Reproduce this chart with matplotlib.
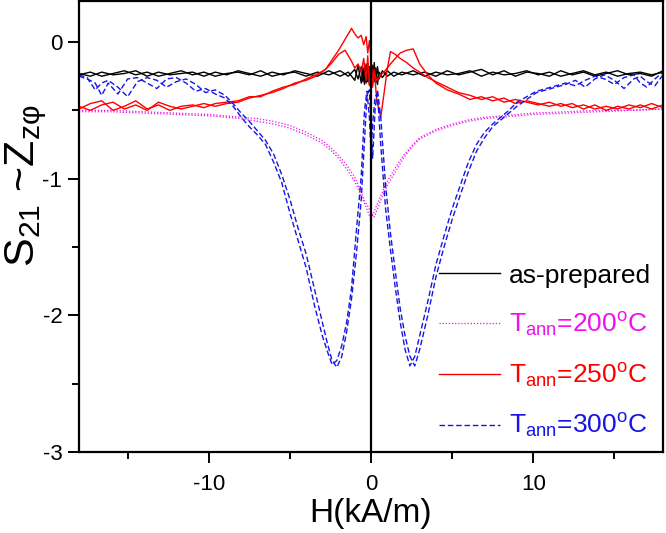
import matplotlib
matplotlib.use("Agg")
import matplotlib.pyplot as plt
from matplotlib.ticker import MultipleLocator

plt.rcParams['font.family'] = ['Liberation Sans', 'DejaVu Sans']
plt.rcParams['mathtext.fontset'] = 'custom'
plt.rcParams['mathtext.rm'] = 'Liberation Sans'
plt.rcParams['mathtext.it'] = 'Liberation Sans:italic'
plt.rcParams['axes.unicode_minus'] = False

# ---------------- data ----------------
black_x = [-18, -17.3, -16.6, -15.9, -15.2, -14.5, -13.8, -13.1, -12.4, -11.7, -11.0,
           -10.3, -9.6, -8.9, -8.2, -7.5, -6.8, -6.1, -5.4, -4.7, -4.0, -3.3,
           -2.6, -1.9, -1.4, -1.0, -0.8, -0.6, -0.5, -0.4, -0.3, -0.2, -0.1,
           0, 0.1, 0.2, 0.3, 0.4, 0.5, 0.7, 1.0, 1.4, 1.9, 2.6,
           3.3, 4.0, 4.7, 5.4, 6.1, 6.8, 7.5, 8.2, 8.9, 9.6, 10.3,
           11.0, 11.7, 12.4, 13.1, 13.8, 14.5, 15.2, 15.9, 16.6, 17.3, 18]
black_y1 = [-0.24, -0.22, -0.25, -0.23, -0.21, -0.24, -0.22, -0.25, -0.23, -0.21, -0.24,
            -0.22, -0.25, -0.23, -0.22, -0.24, -0.21, -0.25, -0.23, -0.22, -0.25, -0.22,
            -0.24, -0.21, -0.25, -0.20, -0.27, -0.18, -0.29, -0.17, -0.30, -0.16, -0.31,
            -0.20, -0.28, -0.15, -0.30, -0.18, -0.27, -0.21, -0.25, -0.22, -0.24, -0.21,
            -0.25, -0.22, -0.24, -0.23, -0.21, -0.25, -0.22, -0.24, -0.23, -0.21, -0.24,
            -0.22, -0.25, -0.23, -0.21, -0.24, -0.22, -0.25, -0.23, -0.22, -0.24, -0.22]
black_y2 = [-0.23, -0.25, -0.22, -0.24, -0.23, -0.21, -0.25, -0.22, -0.24, -0.23, -0.22,
            -0.25, -0.22, -0.24, -0.21, -0.23, -0.25, -0.22, -0.24, -0.21, -0.23, -0.25,
            -0.21, -0.25, -0.22, -0.28, -0.17, -0.30, -0.19, -0.31, -0.16, -0.29, -0.18,
            -0.32, -0.17, -0.29, -0.19, -0.31, -0.22, -0.26, -0.21, -0.25, -0.22, -0.24,
            -0.22, -0.25, -0.21, -0.24, -0.22, -0.20, -0.24, -0.21, -0.25, -0.22, -0.23,
            -0.25, -0.21, -0.24, -0.22, -0.25, -0.23, -0.21, -0.24, -0.23, -0.25, -0.21]

mag_x = [-18, -16, -14, -12, -10, -9, -8, -7, -6, -5, -4, -3, -2.5, -2, -1.5, -1, -0.7, -0.4, -0.2,
         0, 0.2, 0.4, 0.7, 1, 1.5, 2, 2.5, 3, 4, 5, 6, 7, 8, 9, 10, 12, 14, 16, 18]
mag_y1 = [-0.50, -0.50, -0.51, -0.52, -0.53, -0.54, -0.55, -0.56, -0.58, -0.61, -0.66, -0.72, -0.77,
          -0.83, -0.90, -0.99, -1.07, -1.16, -1.20, -1.25, -1.28, -1.22, -1.13, -1.05, -0.95, -0.85,
          -0.77, -0.71, -0.65, -0.61, -0.58, -0.56, -0.55, -0.54, -0.53, -0.52, -0.51, -0.50, -0.49]
mag_y2 = [-0.51, -0.51, -0.52, -0.53, -0.54, -0.55, -0.56, -0.58, -0.60, -0.63, -0.68, -0.74, -0.79,
          -0.85, -0.93, -1.02, -1.10, -1.18, -1.24, -1.30, -1.24, -1.18, -1.10, -1.02, -0.92, -0.83,
          -0.76, -0.70, -0.64, -0.60, -0.57, -0.55, -0.54, -0.53, -0.52, -0.51, -0.50, -0.50, -0.49]

red_x = [-18, -17.3, -16.6, -15.9, -15.2, -14.5, -13.8, -13.1, -12.4, -11.7,
         -11.0, -10.3, -9.6, -8.9, -8.2, -7.5, -6.8, -6.1, -5.4, -4.7,
         -4.0, -3.4, -2.8, -2.4, -2.0, -1.6, -1.2, -1.0, -0.8, -0.6,
         -0.45, -0.3, -0.2, -0.1, 0, 0.1, 0.2, 0.35, 0.5, 0.6,
         0.8, 1.0, 1.2, 1.5, 1.8, 2.2, 2.6, 3.0, 3.5, 4.0,
         4.7, 5.4, 6.1, 6.8, 7.5, 8.2, 8.9, 9.6, 10.3, 11.0,
         11.7, 12.4, 13.1, 13.8, 14.5, 15.2, 15.9, 16.6, 17.3, 18]
red_y1 = [-0.49, -0.45, -0.43, -0.50, -0.47, -0.43, -0.49, -0.46, -0.50, -0.47,
          -0.46, -0.48, -0.45, -0.44, -0.43, -0.40, -0.40, -0.36, -0.33, -0.31,
          -0.27, -0.24, -0.20, -0.13, -0.06, 0.02, 0.10, 0.06, 0.03, 0.05,
          -0.02, 0.04, -0.08, 0.01, -0.12, -0.30, -0.20, -0.42, -0.50, -0.55,
          -0.38, -0.20, -0.07, -0.09, -0.12, -0.15, -0.19, -0.22, -0.26, -0.29,
          -0.33, -0.37, -0.39, -0.42, -0.40, -0.44, -0.42, -0.44, -0.46, -0.44,
          -0.47, -0.45, -0.49, -0.46, -0.50, -0.47, -0.49, -0.46, -0.49, -0.46]
red_y2 = [-0.47, -0.50, -0.46, -0.44, -0.49, -0.46, -0.50, -0.44, -0.47, -0.49,
          -0.47, -0.45, -0.47, -0.45, -0.44, -0.41, -0.39, -0.37, -0.34, -0.30,
          -0.28, -0.25, -0.20, -0.15, -0.09, -0.06, -0.14, -0.19, -0.16, -0.22,
          -0.12, -0.28, -0.10, -0.32, -0.15, -0.33, -0.22, -0.28, -0.26, -0.24,
          -0.22, -0.19, -0.16, -0.12, -0.08, -0.06, -0.05, -0.16, -0.24, -0.30,
          -0.35, -0.38, -0.42, -0.40, -0.43, -0.41, -0.45, -0.43, -0.45, -0.47,
          -0.45, -0.48, -0.46, -0.49, -0.47, -0.49, -0.46, -0.48, -0.45, -0.48]

blue_x = [-18, -17.5, -17, -16.6, -16.2, -15.6, -15, -14.4, -13.8, -13.2,
          -12.6, -12, -11.4, -10.8, -10.2, -9.6, -9.0, -8.5, -8.0, -7.5,
          -7.0, -6.5, -6.0, -5.5, -5.0, -4.5, -4.0, -3.5, -3.0, -2.7,
          -2.4, -2.1, -1.8, -1.5, -1.2, -0.9, -0.6, -0.4, -0.25, -0.1,
          0,
          0.1, 0.25, 0.4, 0.6, 0.9, 1.2, 1.5, 1.8, 2.1, 2.4,
          2.7, 3.0, 3.5, 4.0, 4.5, 5.0, 5.5, 6.0, 6.5, 7.0,
          7.5, 8.0, 8.5, 9.0, 9.6, 10.2, 10.8, 11.4, 12, 12.6,
          13.2, 13.8, 14.4, 15, 15.6, 16.2, 16.6, 17, 17.5, 18]
blue_y1 = [-0.25, -0.27, -0.30, -0.39, -0.30, -0.38, -0.27, -0.26, -0.30, -0.34,
           -0.27, -0.26, -0.30, -0.36, -0.34, -0.38, -0.41, -0.47, -0.55, -0.62,
           -0.68, -0.75, -0.88, -1.03, -1.25, -1.45, -1.65, -1.92, -2.15, -2.26,
           -2.36, -2.33, -2.22, -2.05, -1.80, -1.38, -0.98, -0.50, -0.36, -0.55,
           -0.80,
           -0.60, -0.40, -0.38, -0.75, -1.22, -1.52, -1.80, -2.05, -2.25, -2.37,
           -2.30, -2.15, -1.90, -1.63, -1.42, -1.22, -1.05, -0.88, -0.75, -0.66,
           -0.60, -0.55, -0.50, -0.44, -0.40, -0.36, -0.34, -0.32, -0.30, -0.32,
           -0.28, -0.25, -0.27, -0.31, -0.26, -0.24, -0.30, -0.33, -0.27, -0.22]
blue_y2 = [-0.24, -0.26, -0.35, -0.30, -0.28, -0.33, -0.40, -0.29, -0.26, -0.28,
           -0.33, -0.29, -0.27, -0.31, -0.37, -0.35, -0.39, -0.45, -0.52, -0.58,
           -0.65, -0.72, -0.82, -0.97, -1.15, -1.36, -1.55, -1.80, -2.05, -2.20,
           -2.33, -2.38, -2.30, -2.12, -1.88, -1.55, -1.15, -0.72, -0.40, -0.35,
           -0.62,
           -0.85, -0.50, -0.35, -0.55, -1.05, -1.40, -1.68, -1.95, -2.15, -2.30,
           -2.37, -2.25, -2.00, -1.72, -1.50, -1.30, -1.12, -0.95, -0.80, -0.70,
           -0.62, -0.57, -0.52, -0.47, -0.42, -0.37, -0.35, -0.33, -0.31, -0.28,
           -0.33, -0.27, -0.24, -0.28, -0.34, -0.27, -0.25, -0.29, -0.32, -0.24]

labels = ['as-prepared',
          r'T$_{\mathregular{ann}}$=200$^{\mathregular{o}}$C',
          r'T$_{\mathregular{ann}}$=250$^{\mathregular{o}}$C',
          r'T$_{\mathregular{ann}}$=300$^{\mathregular{o}}$C']
colors = ['black', '#ee11ee', '#ff0000', '#1515e6']

# ---------------- plot ----------------
fig = plt.figure(figsize=(6.66, 5.33), dpi=100)
ax = fig.add_axes([0.1186, 0.152, 0.8769, 0.846])

lw = 1.0
ax.plot(black_x, black_y1, color=colors[0], lw=lw, label=labels[0])
ax.plot(black_x, black_y2, color=colors[0], lw=lw)
ax.plot(mag_x, mag_y1, color=colors[1], lw=0.9, ls=(0, (1, 1.5)), label=labels[1])
ax.plot(mag_x, mag_y2, color=colors[1], lw=0.9, ls=(0, (1, 1.5)))
ax.plot(red_x, red_y1, color=colors[2], lw=lw, label=labels[2])
ax.plot(red_x, red_y2, color=colors[2], lw=lw)
ax.plot(blue_x, blue_y1, color=colors[3], lw=lw, ls=(0, (4, 2)), label=labels[3])
ax.plot(blue_x, blue_y2, color=colors[3], lw=lw, ls=(0, (4, 2)))
ax.axvline(0, color='black', lw=1.6)

ax.set_xlim(-18, 18)
ax.set_ylim(-3, 0.3)
ax.xaxis.set_major_locator(MultipleLocator(10))
ax.xaxis.set_minor_locator(MultipleLocator(5))
ax.yaxis.set_major_locator(MultipleLocator(1))
ax.yaxis.set_minor_locator(MultipleLocator(0.5))
ax.tick_params(which='both', direction='out', width=1.4, labelsize=16, top=False, right=False)
ax.tick_params(which='major', length=8)
ax.tick_params(which='minor', length=5)
ax.tick_params(axis='x', which='major', pad=8)
ax.tick_params(axis='y', which='major', pad=4)
for s in ax.spines.values():
    s.set_linewidth(1.6)

ax.set_xlabel('H(kA/m)', fontsize=24, labelpad=2)
ax.set_ylabel(r'S$_{\mathregular{21}}$ ~Z$_{\mathregular{zφ}}$', fontsize=31)
ax.yaxis.set_label_coords(-0.052, 0.59)

leg = ax.legend(loc='lower right', bbox_to_anchor=(1.02, -0.027), frameon=False, fontsize=19,
                handlelength=2.3, handletextpad=0.35, labelspacing=0.86)
for t, c in zip(leg.get_texts(), colors):
    t.set_color(c)

fig.savefig('out.png', dpi=100)
